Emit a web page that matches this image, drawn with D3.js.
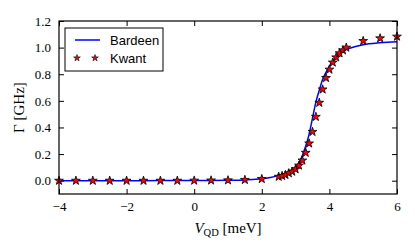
<!DOCTYPE html>
<html>
<head>
<meta charset="utf-8">
<script src="https://cdn.jsdelivr.net/npm/d3@7"></script>
<style>
  body { margin: 0; background: #fff; }
  svg { display: block; }
</style>
</head>
<body>
<script>
// Bardeen curve
var bardeenX = [-4, -3, -2, -1, 0, 0.5, 1, 1.5, 2, 2.25, 2.5, 2.75, 3.0, 3.1, 3.2, 3.3, 3.4, 3.5, 3.6, 3.7, 3.8, 3.9, 4.0, 4.1, 4.2, 4.3, 4.4, 4.6, 4.8, 5.0, 5.5, 6.0];
var bardeenY = [0, 0, 0, 0.001, 0.001, 0.002, 0.003, 0.006, 0.014, 0.024, 0.04, 0.062, 0.105, 0.135, 0.19, 0.26, 0.35, 0.47, 0.59, 0.68, 0.76, 0.815, 0.86, 0.9, 0.93, 0.955, 0.972, 0.995, 1.01, 1.022, 1.037, 1.045];

// Kwant points
var kwantX = [-4, -3.5, -3, -2.5, -2, -1.5, -1, -0.5, 0, 0.5, 1, 1.5, 2,
              2.5, 2.6, 2.7, 2.8, 2.9, 3.0, 3.1, 3.2, 3.3, 3.4, 3.5, 3.6, 3.7, 3.8, 3.9, 4.0, 4.1, 4.2, 4.3, 4.4, 4.5,
              5.0, 5.5, 6.0];
var kwantY = [0, 0, 0, 0, 0, 0, 0, 0, 0.001, 0.002, 0.003, 0.006, 0.013,
              0.03, 0.036, 0.043, 0.056, 0.068, 0.086, 0.114, 0.152, 0.21, 0.28, 0.367, 0.48, 0.586, 0.686, 0.772, 0.835, 0.888, 0.927, 0.958, 0.98, 1.0,
              1.05, 1.07, 1.083];

var xTicks = [-4, -2, 0, 2, 4, 6];
var yTicks = [0.0, 0.2, 0.4, 0.6, 0.8, 1.0, 1.2];

var margin = {top: 21, right: 18, bottom: 55, left: 59};
var width = 415 - margin.left - margin.right;
var height = 249 - margin.top - margin.bottom;

var svg = d3.select("body").append("svg")
    .attr("width", 415)
    .attr("height", 249);

var g = svg.append("g")
    .attr("transform", "translate(" + margin.left + "," + margin.top + ")");

var x = d3.scaleLinear().domain([-4, 6]).range([0, width]);
var y = d3.scaleLinear().domain([-0.1, 1.2]).range([height, 0]);

var serif = "'Liberation Serif', 'DejaVu Serif', serif";
var fmtMinus = (d) => d3.format(".0f")(d).replace("-", "\u2212");

// axes: inward ticks on all four sides
var bottomAxis = d3.axisBottom(x).tickValues(xTicks).tickSizeInner(-5).tickSizeOuter(0).tickPadding(8).tickFormat(fmtMinus);
var topAxis = d3.axisTop(x).tickValues(xTicks).tickSizeInner(-5).tickSizeOuter(0).tickFormat("");
var leftAxis = d3.axisLeft(y).tickValues(yTicks).tickSizeInner(-5).tickSizeOuter(0).tickPadding(8).tickFormat(d3.format(".1f"));
var rightAxis = d3.axisRight(y).tickValues(yTicks).tickSizeInner(-5).tickSizeOuter(0).tickFormat("");

g.append("g").attr("transform", "translate(0," + height + ")").call(bottomAxis);
g.append("g").call(topAxis);
g.append("g").call(leftAxis);
g.append("g").attr("transform", "translate(" + width + ",0)").call(rightAxis);

g.selectAll(".domain").remove();
g.selectAll(".tick line").attr("stroke", "#000").attr("stroke-width", 1);
g.selectAll(".tick text")
    .attr("fill", "#000")
    .style("font-family", serif)
    .style("font-size", "13px");

// data
var bardeen = bardeenX.map((d, i) => ({x: d, y: bardeenY[i]}));
var kwant = kwantX.map((d, i) => ({x: d, y: kwantY[i]}));

var line = d3.line()
    .x((d) => x(d.x))
    .y((d) => y(d.y))
    .curve(d3.curveMonotoneX);

g.append("path")
    .datum(bardeen)
    .attr("fill", "none")
    .attr("stroke", "#0000ff")
    .attr("stroke-width", 1.5)
    .attr("d", line);

var star = d3.symbol().type(d3.symbolStar).size(24);

g.selectAll(".kw")
    .data(kwant)
    .enter()
    .append("path")
    .attr("class", "kw")
    .attr("transform", (d) => "translate(" + x(d.x) + "," + y(d.y) + ")")
    .attr("d", star)
    .attr("fill", "#ff0000")
    .attr("stroke", "#000")
    .attr("stroke-width", 0.8);

// frame
g.append("rect")
    .attr("width", width)
    .attr("height", height)
    .attr("fill", "none")
    .attr("stroke", "#000")
    .attr("stroke-width", 1.2);

// legend
var lg = g.append("g").attr("transform", "translate(6,7)");
lg.append("rect")
    .attr("width", 98)
    .attr("height", 43)
    .attr("fill", "#fff")
    .attr("stroke", "#000")
    .attr("stroke-width", 1);
lg.append("line")
    .attr("x1", 10).attr("x2", 35)
    .attr("y1", 12).attr("y2", 12)
    .attr("stroke", "#0000ff")
    .attr("stroke-width", 1.5);
[12, 30].forEach((cx) => {
    lg.append("path")
        .attr("transform", "translate(" + cx + ",30)")
        .attr("d", d3.symbol().type(d3.symbolStar).size(14))
        .attr("fill", "#ff0000")
        .attr("stroke", "#000")
        .attr("stroke-width", 0.6);
});
lg.selectAll(".lt")
    .data(["Bardeen", "Kwant"])
    .enter()
    .append("text")
    .attr("x", 45)
    .attr("y", (d, i) => 16.5 + i * 18)
    .style("font-family", "'Liberation Sans', Arial, sans-serif")
    .style("font-size", "13px")
    .text((d) => d);

// axis labels
var xl = svg.append("text")
    .attr("x", margin.left + width / 2)
    .attr("y", 233)
    .attr("text-anchor", "middle")
    .style("font-family", serif)
    .style("font-size", "15px");
xl.append("tspan").style("font-style", "italic").text("V");
xl.append("tspan").attr("dy", 3).style("font-size", "10.5px").text("QD");
xl.append("tspan").attr("dy", -3).text(" [meV]");

svg.append("text")
    .attr("transform", "translate(24," + (margin.top + height / 2) + ") rotate(-90)")
    .attr("text-anchor", "middle")
    .style("font-family", serif)
    .style("font-size", "15px")
    .text("\u0393 [GHz]");
</script>
</body>
</html>
